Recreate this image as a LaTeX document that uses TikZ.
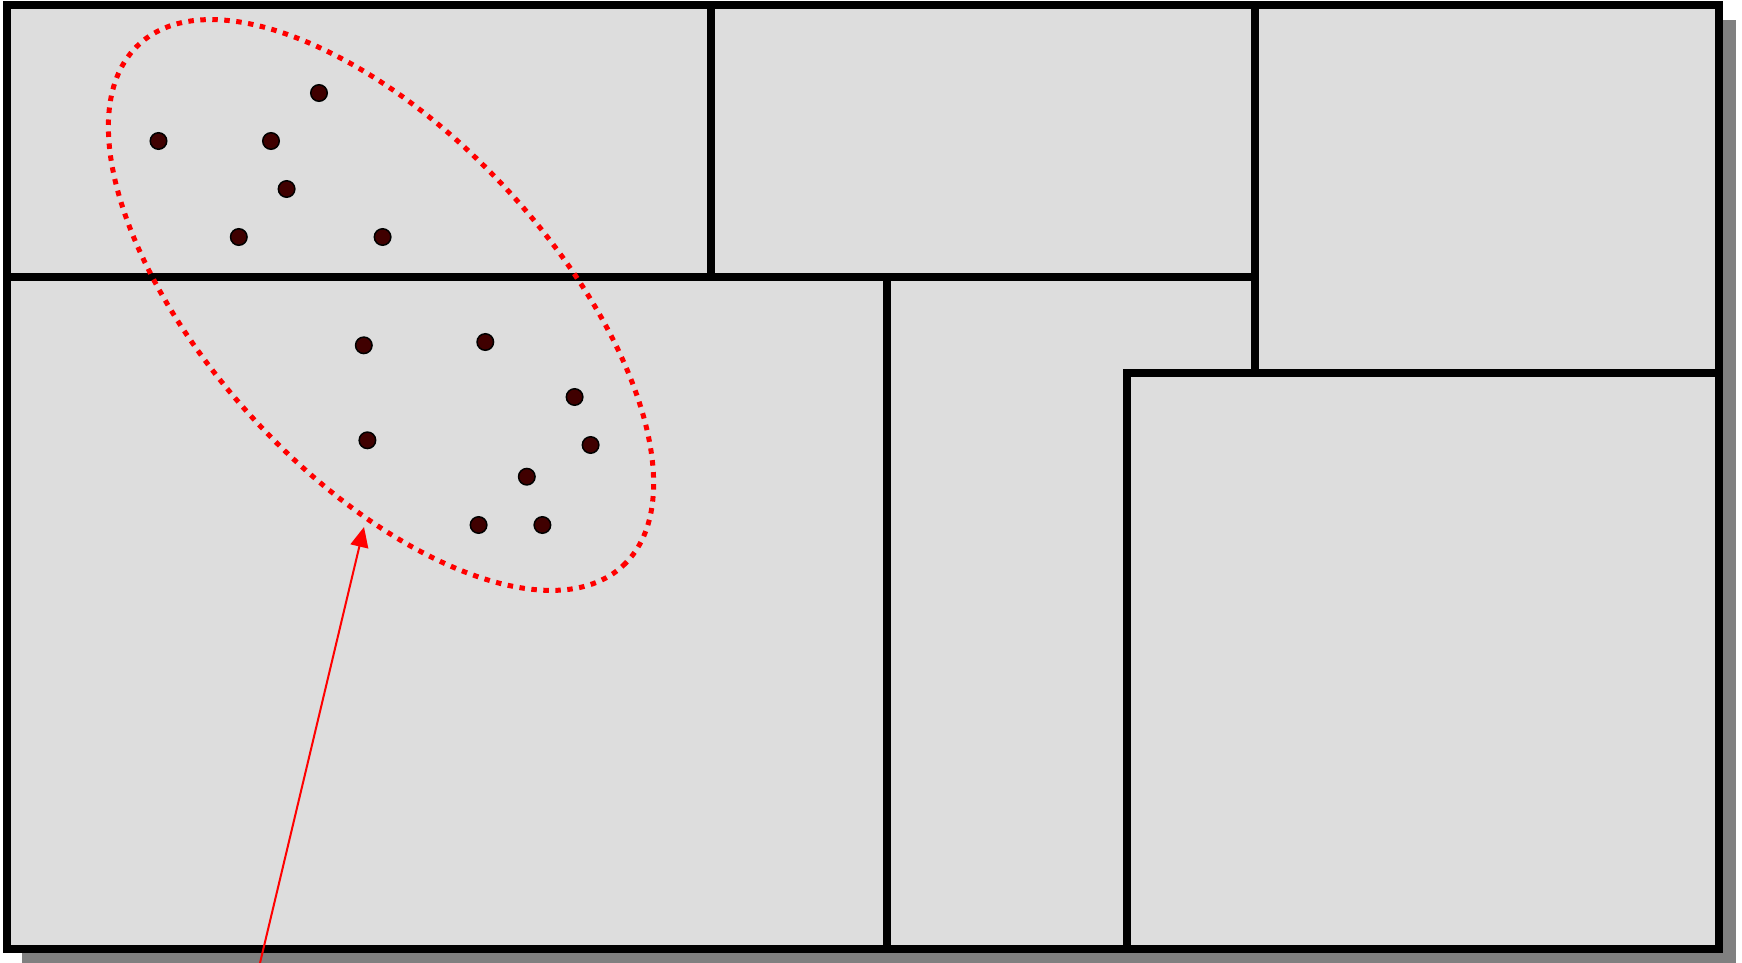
\documentclass[tikz,border=0pt]{standalone}
\usetikzlibrary{arrows.meta}
\definecolor{roomfill}{HTML}{DDDDDD}
\definecolor{shadowgray}{HTML}{808080}
\definecolor{dotfill}{HTML}{400000}
\begin{document}
\begin{tikzpicture}[x=1pt,y=-1pt,
  wall/.style={line width=8pt,draw=black,line cap=rect,line join=miter},
  pt/.style={circle,draw=black,line width=1.5pt,fill=dotfill,minimum size=16.5pt,inner sep=0pt},
  cluster/.style={draw=red,line width=5pt,dash pattern=on 5.5pt off 6.5pt},
  pointer/.style={draw=red,line width=2pt,-{Triangle[length=20pt,width=18pt]}}]
\useasboundingbox (0,0) rectangle (1742,963);
% shadow
\fill[shadowgray] (22,20) rectangle (1736,963);
% floor
\fill[roomfill] (7,5) rectangle (1719,949);
% walls
\draw[wall] (7,5) rectangle (1719,949);
\draw[wall] (7,277) -- (1255,277);
\draw[wall] (711,5) -- (711,277);
\draw[wall] (1255,5) -- (1255,373);
\draw[wall] (887,277) -- (887,949);
\draw[wall] (1127,949) -- (1127,373) -- (1719,373);
% points
\node[pt] (d1) at (158.5,141) {};
\node[pt] (d2) at (271,141) {};
\node[pt] (d3) at (319,93) {};
\node[pt] (d4) at (286.6,189) {};
\node[pt] (d5) at (238.8,237) {};
\node[pt] (d6) at (382.6,237) {};
\node[pt] (d7) at (363.8,345.3) {};
\node[pt] (d8) at (485.3,342) {};
\node[pt] (d9) at (574.6,397) {};
\node[pt] (d10) at (367.4,440.3) {};
\node[pt] (d11) at (590.6,445) {};
\node[pt] (d12) at (526.8,476.7) {};
\node[pt] (d13) at (478.6,525) {};
\node[pt] (d14) at (542.4,525) {};
% cluster ellipse
\draw[cluster,shift={(381,305)},rotate=-47.1] (0,0) ellipse [x radius=355.7pt, y radius=170.9pt];
% arrow
\coordinate (tail) at (260,963);
\coordinate (tip) at (364,527);
\draw[pointer] (tail) -- (tip);
\end{tikzpicture}
\end{document}
